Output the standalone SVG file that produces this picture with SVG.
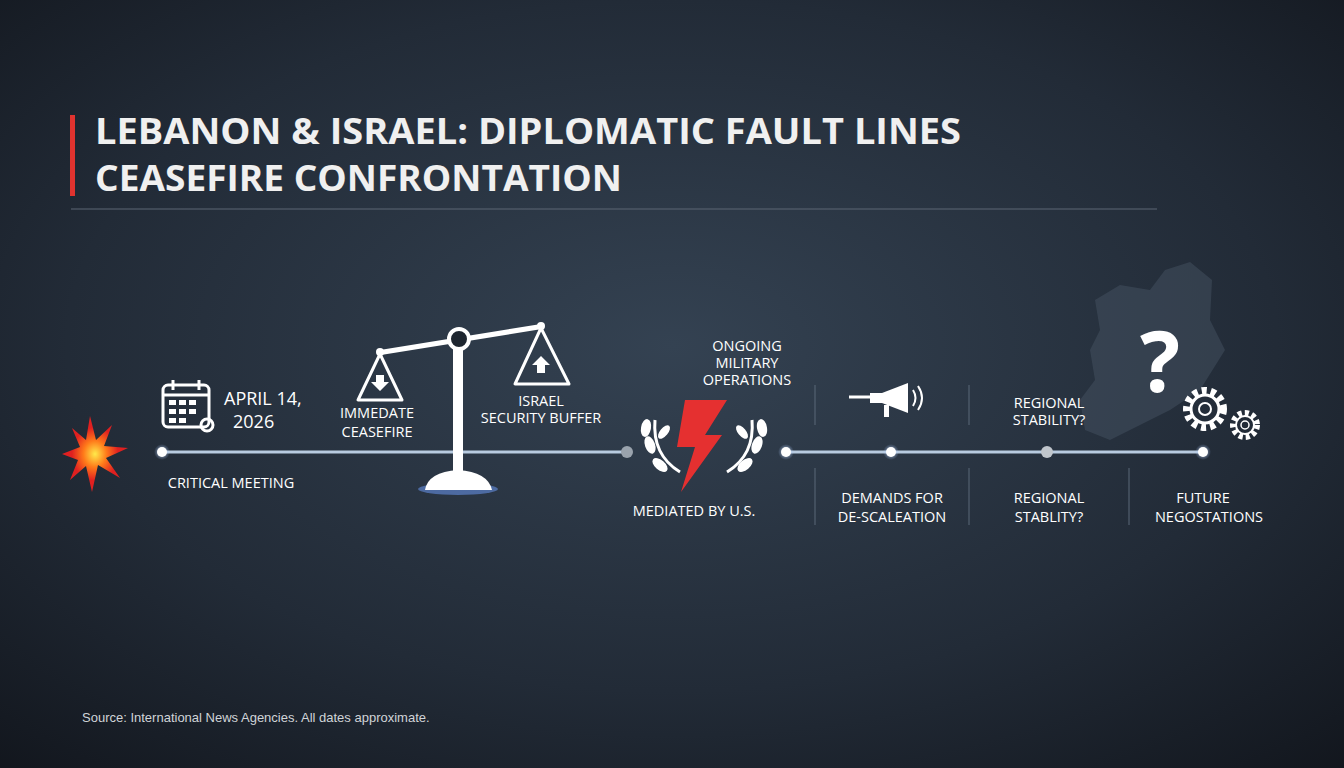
<svg xmlns="http://www.w3.org/2000/svg" width="1344" height="768" viewBox="0 0 1344 768">
<defs>
<radialGradient id="bg" cx="0.5" cy="0.45" r="0.75">
<stop offset="0" stop-color="#344252"/><stop offset="0.6" stop-color="#222b37"/><stop offset="1" stop-color="#12161d"/>
</radialGradient>
<radialGradient id="glow"><stop offset="0" stop-color="#ffffff" stop-opacity="0.9"/><stop offset="1" stop-color="#9fc3ff" stop-opacity="0"/></radialGradient>
<radialGradient id="boom"><stop offset="0" stop-color="#ffe94a"/><stop offset="0.35" stop-color="#ff7a1a"/><stop offset="0.7" stop-color="#e02020"/></radialGradient>
</defs>
<style>
.t{font-family:"Open Sans","Liberation Sans",sans-serif;fill:#fff;font-size:14.5px;text-anchor:middle}
.h{font-family:"Open Sans","Liberation Sans",sans-serif;fill:#f0f0f0;font-weight:bold;font-size:35px}
.line{stroke:#b8cbe0;stroke-width:3}
.div{stroke:#5a6878;stroke-width:1}
.ic{fill:none;stroke:#fff;stroke-width:3;stroke-linejoin:round}
</style>
<rect width="1344" height="768" fill="url(#bg)"/>
<g id="title">
<rect x="70" y="115" width="5" height="81" fill="#e0332f"/>
<text class="h" x="95" y="144" textLength="866" lengthAdjust="spacingAndGlyphs">LEBANON &amp; ISRAEL: DIPLOMATIC FAULT LINES</text>
<text class="h" x="95" y="191" textLength="527" lengthAdjust="spacingAndGlyphs">CEASEFIRE CONFRONTATION</text>
<line x1="71" y1="209" x2="1157" y2="209" stroke="#5c6774" stroke-width="1"/>
</g>
<g id="map" fill="#4a5666" opacity="0.45">
<path d="M1095 300 L1120 285 L1150 290 L1165 270 L1190 262 L1212 280 L1210 320 L1225 350 L1200 390 L1170 410 L1140 425 L1110 440 L1085 430 L1080 400 L1095 380 L1090 350 L1100 330 Z"/>
</g>
<g id="connectors">
<line class="line" x1="162" y1="452" x2="627" y2="452"/>
<line class="line" x1="785" y1="452" x2="1203" y2="452"/>
<line class="div" x1="815" y1="385" x2="815" y2="425"/>
<line class="div" x1="815" y1="468" x2="815" y2="525"/>
<line class="div" x1="969" y1="385" x2="969" y2="425"/>
<line class="div" x1="969" y1="468" x2="969" y2="525"/>
<line class="div" x1="1129" y1="468" x2="1129" y2="525"/>
</g>
<g id="n1">
<polygon fill="url(#boom)" points="90,416 96,440 112,425 104,446 128,448 106,458 120,478 98,465 92,492 86,466 70,480 78,460 62,454 80,447 72,428 86,440"/>
<circle cx="162" cy="452" r="8" fill="url(#glow)"/><circle cx="162" cy="452" r="5" fill="#fff"/>
<text class="t" x="231" y="488">CRITICAL MEETING</text>
</g>
<g id="n2">
<rect class="ic" x="163" y="385" width="46" height="42" rx="5"/>
<line class="ic" x1="163" y1="395" x2="209" y2="395"/>
<line class="ic" x1="173" y1="380" x2="173" y2="390"/><line class="ic" x1="199" y1="380" x2="199" y2="390"/>
<g fill="#fff"><rect x="169" y="400" width="7" height="5"/><rect x="179" y="400" width="7" height="5"/><rect x="189" y="400" width="7" height="5"/><rect x="169" y="409" width="7" height="5"/><rect x="179" y="409" width="7" height="5"/><rect x="189" y="409" width="7" height="5"/><rect x="169" y="418" width="7" height="5"/><rect x="179" y="418" width="7" height="5"/></g>
<circle class="ic" cx="207" cy="425" r="6"/>
<text x="224" y="405" style="font-family:'Open Sans','Liberation Sans',sans-serif;fill:#fff;font-size:18px">APRIL 14,</text>
<text x="233" y="428" style="font-family:'Open Sans','Liberation Sans',sans-serif;fill:#fff;font-size:18px">2026</text>
</g>
<g id="scale">
<ellipse cx="458" cy="489" rx="40" ry="6" fill="#6fa0ff" opacity="0.5"/>
<path d="M425 490 Q428 472 458 470 Q488 472 492 490 Z" fill="#fff"/>
<rect x="453" y="345" width="10" height="128" fill="#fff"/>
<path d="M380 350 L541 324 L542 329 L381 355 Z" fill="#fff"/>
<circle cx="459" cy="339" r="10" fill="#1e2630" stroke="#fff" stroke-width="4"/>
<circle cx="380" cy="352" r="4" fill="#fff"/><circle cx="541" cy="326" r="4" fill="#fff"/>
<polygon class="ic" points="380,354 358,400 402,400"/>
<path d="M376 375 h8 v7 h5 l-9 9 l-9 -9 h5 Z" fill="#fff"/>
<polygon class="ic" points="541,328 515,384 569,384"/>
<path d="M541 356 l9 9 h-5 v8 h-8 v-8 h-5 Z" fill="#fff"/>
<text class="t" x="377" y="418">IMMEDATE</text><text class="t" x="377" y="437">CEASEFIRE</text>
<text class="t" x="541" y="406">ISRAEL</text><text class="t" x="541" y="423">SECURITY BUFFER</text>
</g>
<g id="n3">
<circle cx="627" cy="452" r="6" fill="#9aa3ad"/>
<g fill="#fff">
<ellipse cx="650" cy="445" rx="5" ry="9" transform="rotate(-20 650 445)"/>
<ellipse cx="646" cy="428" rx="5" ry="9" transform="rotate(10 646 428)"/>
<ellipse cx="660" cy="465" rx="5" ry="9" transform="rotate(-50 660 465)"/>
<ellipse cx="664" cy="432" rx="4" ry="8" transform="rotate(40 664 432)"/>
<ellipse cx="757" cy="445" rx="5" ry="9" transform="rotate(20 757 445)"/>
<ellipse cx="762" cy="428" rx="5" ry="9" transform="rotate(-10 762 428)"/>
<ellipse cx="745" cy="465" rx="5" ry="9" transform="rotate(50 745 465)"/>
<ellipse cx="742" cy="432" rx="4" ry="8" transform="rotate(-40 742 432)"/>
</g>
<path d="M655 420 Q652 455 680 472 M752 420 Q755 455 727 472" fill="none" stroke="#fff" stroke-width="3"/>
<polygon fill="#e53030" points="685,400 727,400 705,435 722,435 681,492 695,447 677,447"/>
<text class="t" x="694" y="516">MEDIATED BY U.S.</text>
<text class="t" x="747" y="351">ONGOING</text><text class="t" x="747" y="368">MILITARY</text><text class="t" x="747" y="385">OPERATIONS</text>
</g>
<g id="n4">
<circle cx="786" cy="452" r="8" fill="url(#glow)"/><circle cx="786" cy="452" r="5" fill="#fff"/>
</g>
<g id="n5">
<path d="M882 393 L908 383 L908 413 L882 403 Z" fill="#fff"/>
<rect x="870" y="393" width="14" height="10" fill="#fff"/>
<rect x="884" y="405" width="5" height="12" fill="#fff"/>
<path d="M913 390 Q918 398 913 406 M918 386 Q926 398 918 410" fill="none" stroke="#fff" stroke-width="2"/>
<line x1="849" y1="397" x2="870" y2="397" stroke="#fff" stroke-width="3"/>
<circle cx="891" cy="452" r="8" fill="url(#glow)"/><circle cx="891" cy="452" r="5" fill="#fff"/>
<text class="t" x="892" y="503">DEMANDS FOR</text><text class="t" x="892" y="522">DE-SCALEATION</text>
</g>
<g id="n6">
<circle cx="1047" cy="452" r="6" fill="#c0c6cc"/>
<text class="t" x="1049" y="408">REGIONAL</text><text class="t" x="1049" y="425">STABILITY?</text>
<text class="t" x="1049" y="503">REGIONAL</text><text class="t" x="1049" y="522">STABLITY?</text>
</g>
<g id="n7">
<text x="1160" y="392" style="font-family:'Open Sans','Liberation Sans',sans-serif;fill:#fff;font-size:84px;font-weight:bold;text-anchor:middle">?</text>
<circle cx="1205" cy="409" r="18" fill="none" stroke="#fff" stroke-width="8" stroke-dasharray="5 4"/>
<circle cx="1205" cy="409" r="14" fill="none" stroke="#fff" stroke-width="3"/>
<circle cx="1205" cy="409" r="6" fill="none" stroke="#fff" stroke-width="2"/>
<circle cx="1245" cy="425" r="12" fill="none" stroke="#fff" stroke-width="6" stroke-dasharray="4 3"/>
<circle cx="1245" cy="425" r="9" fill="none" stroke="#fff" stroke-width="2"/>
<circle cx="1245" cy="425" r="4" fill="none" stroke="#fff" stroke-width="1.5"/>
<circle cx="1203" cy="452" r="8" fill="url(#glow)"/><circle cx="1203" cy="452" r="5" fill="#fff"/>
<text class="t" x="1203" y="503">FUTURE</text>
<text class="t" x="1209" y="522">NEGOSTATIONS</text>
</g>
<text x="82" y="722" style="font-family:'Liberation Sans',sans-serif;fill:#d0d4d8;font-size:13px">Source: International News Agencies. All dates approximate.</text>
</svg>
